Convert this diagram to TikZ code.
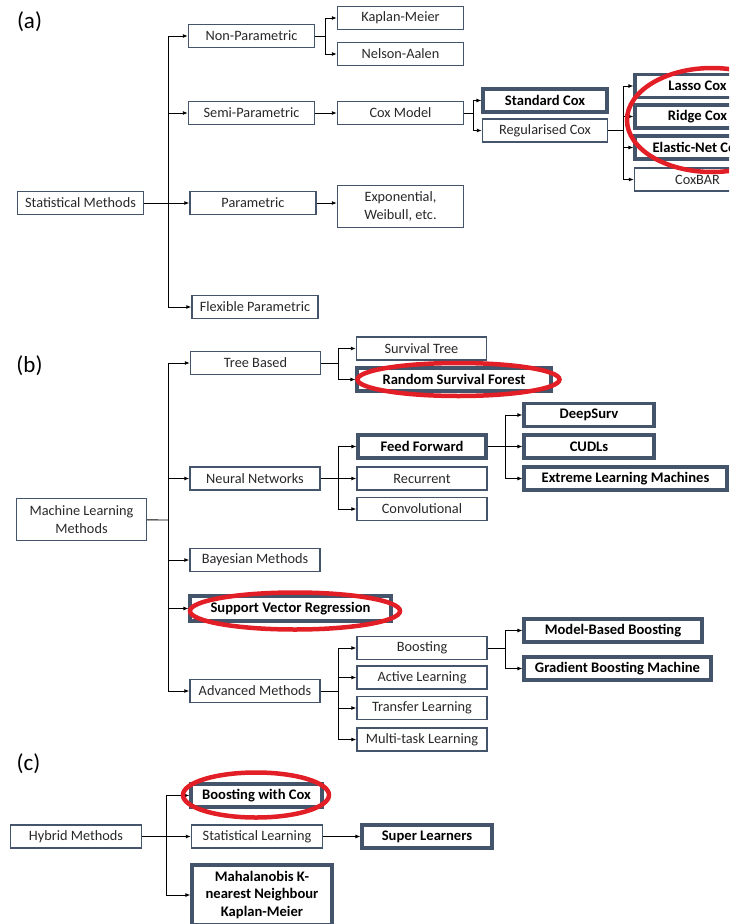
\documentclass[tikz,border=0pt]{standalone}
\usepackage{fontspec}
\setmainfont{Carlito}
\usepackage{xcolor}
\usepackage{tikz}
\usetikzlibrary{arrows.meta,calc,positioning}
\definecolor{boxline}{HTML}{44546A}
\definecolor{ringred}{RGB}{226,30,38}
\definecolor{txt}{RGB}{40,40,40}

\begin{document}
\begin{tikzpicture}[x=1pt, y=-1pt]
	\tikzstyle{every node} = [font=\fontsize{14.3}{17.5}\selectfont, text=txt, inner sep=0pt]
	\tikzstyle{box} = [rectangle, draw = boxline, line width=1.4pt, minimum height=23pt, align=center]
	\tikzstyle{keybox} = [box, line width=3.2pt, font=\fontsize{14.6}{17.5}\selectfont\bfseries, text=black]
	\tikzstyle{lbl} = [font=\fontsize{23}{26}\selectfont, text=black]
	\tikzstyle{link} = [draw = black, line width=0.9pt]
	\tikzstyle{arr} = [link, -{Latex[length=5pt,width=4pt]}]
	\tikzstyle{ring} = [draw = ringred, line width=4.5pt]
\useasboundingbox (0,0) rectangle (729,924);
\clip (0,0) rectangle (729,924);
\node[lbl] (la) at (29.5, 22) {(a)};
\node[lbl] (lb) at (29.5, 366) {(b)};
\node[lbl] (lc) at (28.5, 764) {(c)};
\node[box, minimum width=126pt] (0) at (80.5, 203) {Statistical Methods};
\node[box, minimum width=126pt] (1) at (251.5, 36) {Non-Parametric};
\node[box, minimum width=126pt] (2) at (251.5, 113) {Semi-Parametric};
\node[box, minimum width=126pt] (3) at (253, 203) {Parametric};
\node[box, minimum width=126pt] (4) at (255, 307) {Flexible Parametric};
\node[box, minimum width=126pt] (5) at (400.5, 18) {Kaplan-Meier};
\node[box, minimum width=126pt] (6) at (400.5, 54) {Nelson-Aalen};
\node[box, minimum width=126pt] (7) at (400.5, 113) {Cox Model};
\node[box, minimum width=126pt, minimum height=42pt] (8) at (400.5, 206.5) {Exponential,\\Weibull, etc.};
\node[keybox, minimum width=124pt] (9) at (545, 100.5) {Standard Cox};
\node[box, minimum width=125pt] (10) at (545, 130.5) {Regularised Cox};
\node[keybox, minimum width=125pt] (11) at (697.5, 86) {Lasso Cox};
\node[keybox, minimum width=125pt] (12) at (697.5, 116.5) {Ridge Cox};
\node[keybox, minimum width=125pt] (13) at (697.5, 147.5) {Elastic-Net Cox};
\node[box, minimum width=126pt] (14) at (697.5, 179.5) {CoxBAR};
\node[box, minimum width=130pt, minimum height=42pt] (15) at (81.5, 519.5) {Machine Learning\\Methods};
\node[box, minimum width=130pt] (16) at (255.5, 363) {Tree Based};
\node[box, minimum width=130pt] (17) at (255, 478.5) {Neural Networks};
\node[box, minimum width=130pt] (18) at (255, 560) {Bayesian Methods};
\node[keybox, minimum width=201pt, minimum height=25pt] (19) at (290.5, 608.5) {Support Vector Regression};
\node[box, minimum width=130pt] (20) at (255, 691) {Advanced Methods};
\node[box, minimum width=130pt] (21) at (421.5, 348.5) {Survival Tree};
\node[keybox, minimum width=194pt] (22) at (454, 379.5) {Random Survival Forest};
\node[keybox, minimum width=128pt] (23) at (422, 446.5) {Feed Forward};
\node[box, minimum width=130pt] (24) at (422, 478.5) {Recurrent};
\node[box, minimum width=130pt] (25) at (422, 509) {Convolutional};
\node[keybox, minimum width=130pt] (26) at (589, 415) {DeepSurv};
\node[keybox, minimum width=130pt] (27) at (589, 446.5) {CUDLs};
\node[keybox, minimum width=203pt] (28) at (625.5, 478.5) {Extreme Learning Machines};
\node[box, minimum width=130pt] (29) at (422, 648) {Boosting};
\node[box, minimum width=130pt] (30) at (422, 677.5) {Active Learning};
\node[box, minimum width=130pt] (31) at (422, 708) {Transfer Learning};
\node[box, minimum width=130pt] (32) at (422, 739.5) {Multi-task Learning};
\node[keybox, minimum width=178pt] (33) at (613, 630.5) {Model-Based Boosting};
\node[keybox, minimum width=187pt] (34) at (617.5, 668.5) {Gradient Boosting Machine};
\node[box, minimum width=131pt] (35) at (76, 836.5) {Hybrid Methods};
\node[keybox, minimum width=131pt] (36) at (256.5, 795.5) {Boosting with Cox};
\node[box, minimum width=131pt] (37) at (257, 836.5) {Statistical Learning};
\node[keybox, minimum width=130pt] (38) at (427, 836.5) {Super Learners};
\node[keybox, minimum width=140pt, minimum height=60pt] (39) at (262, 895) {Mahalanobis K-\\nearest Neighbour\\Kaplan-Meier};
\coordinate (j0) at (168, 203);
\coordinate (j1) at (325, 36);
\coordinate (j7) at (473, 113);
\coordinate (j10) at (623, 130.5);
\coordinate (j15) at (168, 520);
\coordinate (j16) at (338, 363);
\coordinate (j17) at (338, 478.5);
\coordinate (j20) at (338, 691);
\coordinate (j23) at (505, 446.5);
\coordinate (j29) at (505, 648);
\coordinate (j35) at (166, 836.5);
	\path[link] (0) -- (j0);
	\path[arr] (j0) |- (1);
	\path[arr] (j0) |- (2);
	\path[arr] (j0) -- (3);
	\path[arr] (j0) |- (4);
	\path[link] (1) -- (j1);
	\path[arr] (j1) |- (5);
	\path[arr] (j1) |- (6);
	\path[arr] (2) -- (7);
	\path[arr] (3) -- (3 -| 8.west);
	\path[link] (7) -- (j7);
	\path[arr] (j7) |- (9);
	\path[arr] (j7) |- (10);
	\path[link] (10) -- (j10);
	\path[arr] (j10) |- (11);
	\path[arr] (j10) |- (12);
	\path[arr] (j10) |- (13);
	\path[arr] (j10) |- (14);
	\path[link] (15) -- (j15);
	\path[arr] (j15) |- (16);
	\path[arr] (j15) |- (17);
	\path[arr] (j15) |- (18);
	\path[arr] (j15) |- (19);
	\path[arr] (j15) |- (20);
	\path[link] (16) -- (j16);
	\path[arr] (j16) |- (21);
	\path[arr] (j16) |- (22);
	\path[link] (17) -- (j17);
	\path[arr] (j17) |- (23);
	\path[arr] (j17) -- (24);
	\path[arr] (j17) |- (25);
	\path[link] (23) -- (j23);
	\path[arr] (j23) |- (26);
	\path[arr] (j23) -- (27);
	\path[arr] (j23) |- (28);
	\path[link] (20) -- (j20);
	\path[arr] (j20) |- (29);
	\path[arr] (j20) |- (30);
	\path[arr] (j20) |- (31);
	\path[arr] (j20) |- (32);
	\path[link] (29) -- (j29);
	\path[arr] (j29) |- (33);
	\path[arr] (j29) |- (34);
	\path[link] (35) -- (j35);
	\path[arr] (j35) |- (36);
	\path[arr] (j35) -- (37);
	\path[arr] (j35) |- (39);
	\path[arr] (37) -- (38);
	\draw[ring] (712, 120) ellipse [x radius=85, y radius=52];
	\draw[ring] (458.5, 379.5) ellipse [x radius=101, y radius=16.5];
	\draw[ring] (295, 611) ellipse [x radius=105, y radius=18.5];
	\draw[ring] (256, 795) ellipse [x radius=73, y radius=22.5];
\end{tikzpicture}
\end{document}
